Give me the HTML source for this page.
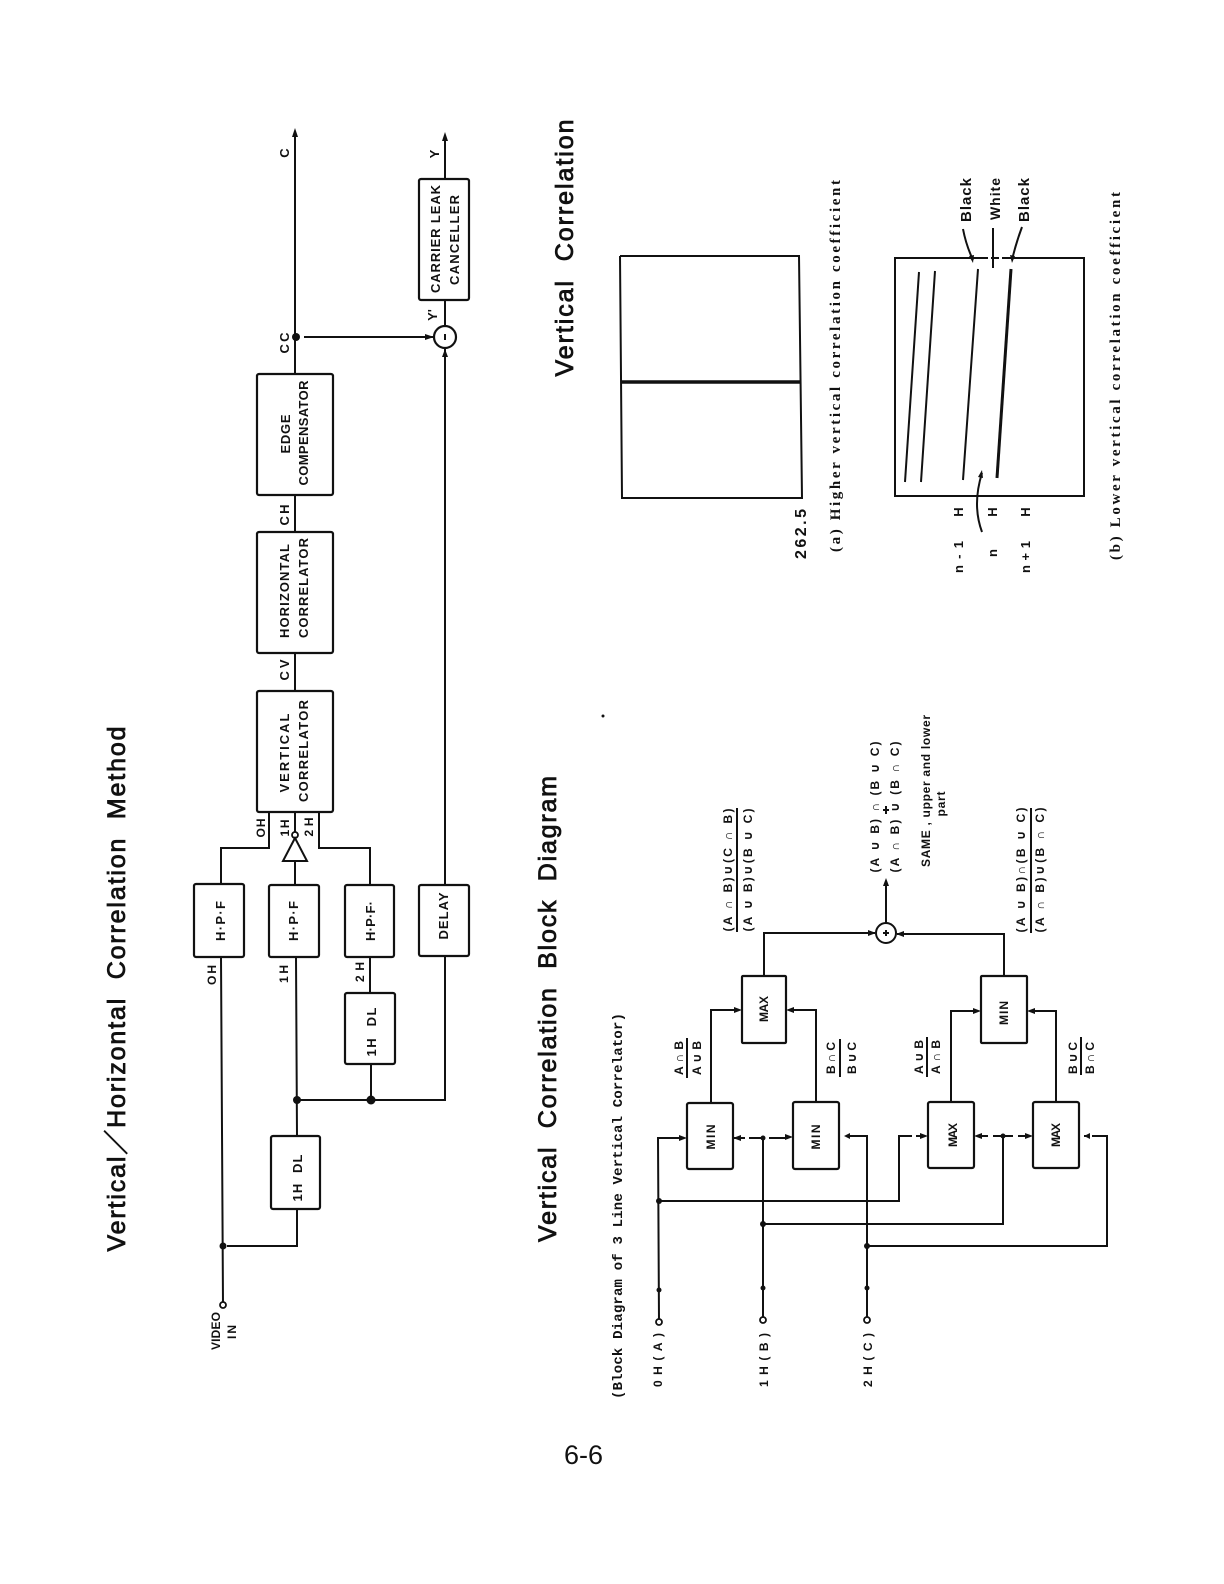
<!DOCTYPE html>
<html><head><meta charset="utf-8"><style>
html,body{margin:0;padding:0;background:#fff}
svg{display:block}
text{fill:#111;font-family:"Liberation Sans","DejaVu Sans",sans-serif;white-space:pre}
.b{font-weight:bold;font-size:13px;text-anchor:middle}
.s{font-weight:bold;font-size:12px;text-anchor:middle}
.t{font-size:25px;stroke:#111;stroke-width:.8;text-anchor:middle}
.c{font-family:"Liberation Mono","DejaVu Sans Mono",monospace;font-weight:bold;font-size:14px;text-anchor:middle}
.ln{fill:none;stroke:#111;stroke-width:2}
.box{fill:#fff;stroke:#111;stroke-width:2.2}
.f{fill:#111;stroke:none}
</style></head><body>
<svg width="1224" height="1584" viewBox="0 0 1224 1584" xmlns="http://www.w3.org/2000/svg">
<rect width="1224" height="1584" fill="#fff"/>

<!-- titles -->
<text class="t" transform="translate(125,989) rotate(-90)" textLength="525">Vertical／Horizontal  Correlation  Method</text>
<text class="t" transform="translate(556,1009) rotate(-90)" textLength="466">Vertical  Correlation  Block  Diagram</text>
<text class="t" transform="translate(573,248) rotate(-90)" textLength="257">Vertical  Correlation</text>
<text class="c" transform="translate(622,1206) rotate(-90)" textLength="386">(Block Diagram of 3 Line Vertical Correlator)</text>
<text transform="translate(564,1464)" font-size="27" textLength="39">6-6</text>

<!-- top diagram wires -->
<g class="ln">
<path d="M295 132V374M295 495V532M295 653V691"/>
<path d="M445 136V179M445 300V326M445 348V884"/>
<path d="M304 337H434"/>
<path d="M269 812V848H221V884M295 812V832M295 861V884M319 812V848H370V884"/>
<path d="M221 957L223 1305M296 957L297 1136M297 1209V1246H227M370 957V993M371 1064V1100M297 1100H445V957"/>
</g>
<path class="f" d="M295 128l-3 9h6zM445 132l-3 9h6zM434 337l-9-3v6z"/>
<path class="f" d="M445 349l-3 8h6z"/>
<circle cx="296" cy="337" r="4" class="f"/>
<circle cx="297" cy="1100" r="4" class="f"/>
<circle cx="371" cy="1100" r="4.5" class="f"/>
<circle cx="223" cy="1246" r="3.5" class="f"/>
<circle cx="223" cy="1305" r="3" fill="#fff" stroke="#111" stroke-width="1.8"/>
<circle cx="445" cy="337" r="11" fill="#fff" stroke="#111" stroke-width="2.2"/>
<rect x="444" y="334" width="2" height="6" class="f"/>
<circle cx="295" cy="835" r="3" fill="#fff" stroke="#111" stroke-width="1.8"/>
<path d="M295 838L283 861H307Z" fill="#fff" stroke="#111" stroke-width="2"/>

<!-- top diagram boxes -->
<g class="box">
<rect x="419" y="179" width="50" height="121" rx="2"/>
<rect x="257" y="374" width="76" height="121" rx="2"/>
<rect x="257" y="532" width="76" height="121" rx="2"/>
<rect x="257" y="691" width="76" height="121" rx="2"/>
<rect x="194" y="884" width="50" height="73" rx="2"/>
<rect x="269" y="885" width="50" height="72" rx="2"/>
<rect x="345" y="885" width="49" height="72" rx="2"/>
<rect x="419" y="885" width="50" height="71" rx="2"/>
<rect x="345" y="993" width="50" height="71" rx="2"/>
<rect x="271" y="1136" width="49" height="73" rx="2"/>
</g>

<!-- top diagram labels -->
<g>
<text class="b" transform="translate(440,239) rotate(-90)" textLength="108">CARRIER LEAK</text>
<text class="b" transform="translate(459,240) rotate(-90)" textLength="90">CANCELLER</text>
<text class="b" transform="translate(290,434) rotate(-90)" textLength="39">EDGE</text>
<text class="b" transform="translate(308,433) rotate(-90)" textLength="105">COMPENSATOR</text>
<text class="b" transform="translate(289,591) rotate(-90)" textLength="94">HORIZONTAL</text>
<text class="b" transform="translate(308,588) rotate(-90)" textLength="100">CORRELATOR</text>
<text class="b" transform="translate(289,753) rotate(-90)" textLength="79">VERTICAL</text>
<text class="b" transform="translate(308,751) rotate(-90)" textLength="102">CORRELATOR</text>
<text class="b" transform="translate(289,153) rotate(-90)">C</text>
<text class="b" transform="translate(289,343) rotate(-90)" textLength="21">CC</text>
<text class="b" transform="translate(439,154) rotate(-90)">Y</text>
<text class="b" transform="translate(437,315) rotate(-90)">Y'</text>
<text class="b" transform="translate(289,515) rotate(-90)" textLength="21">CH</text>
<text class="b" transform="translate(289,670) rotate(-90)" textLength="21">CV</text>
<text class="s" transform="translate(265,828) rotate(-90)" textLength="19">OH</text>
<text class="s" transform="translate(289,828) rotate(-90)" textLength="17">1H</text>
<text class="s" transform="translate(313,827) rotate(-90)" textLength="19">2H</text>
<text class="b" transform="translate(225,921) rotate(-90)" textLength="40">H·P·F</text>
<text class="b" transform="translate(298,921) rotate(-90)" textLength="40">H·P·F</text>
<text class="b" transform="translate(375,921) rotate(-90)" textLength="40">H·P·F·</text>
<text class="b" transform="translate(448,916) rotate(-90)" textLength="47">DELAY</text>
<text class="s" transform="translate(216,975) rotate(-90)" textLength="20">OH</text>
<text class="s" transform="translate(288,974) rotate(-90)" textLength="18">1H</text>
<text class="s" transform="translate(364,972) rotate(-90)" textLength="20">2H</text>
<text class="b" transform="translate(376,1032) rotate(-90)" textLength="49">1H  DL</text>
<text class="b" transform="translate(302,1178) rotate(-90)" textLength="47">1H  DL</text>
<text class="s" transform="translate(220,1331) rotate(-90)" textLength="38">VIDEO</text>
<text class="s" transform="translate(236,1332) rotate(-90)" textLength="14">IN</text>
</g>

<!-- lower diagram wires -->
<g class="ln" stroke-width="1.8">
<path d="M659 1322L658 1138H682"/>
<path d="M763 1320V1137"/>
<path d="M733 1138H745M749 1138H765M769 1138H788"/>
<path d="M867 1320V1136H848"/>
<path d="M659 1201H899V1136H912M916 1136H923"/>
<path d="M763 1224H1003V1136M978 1136H988M993 1136H1013M1018 1136H1028"/>
<path d="M867 1246H1107V1136H1092M1090 1136H1084"/>
<path d="M711 1103V1010H737M816 1102V1010H791"/>
<path d="M951 1102V1011H976M1056 1102V1011H1032"/>
<path d="M764 976V933H875M1004 976V934H897M886 923V882"/>
</g>
<path class="f" d="M687 1138l-8-3v6zM733 1138l8-3v6zM793 1137l-8-3v6zM844 1136l6-3v6zM928 1136l-8-3v6zM974 1136l8-3v6zM1033 1136l-8-3v6zM1084 1136l6-3v6z"/>
<path class="f" d="M742 1010l-8-3v6zM786 1010l8-3v6zM981 1011l-8-3v6zM1027 1011l8-3v6z"/>
<path class="f" d="M876 933l-8-3v6zM896 934l8-3v6zM886 878l-3 8h6z"/>
<g class="f">
<circle cx="763" cy="1138" r="2.5"/><circle cx="1003" cy="1136" r="2.5"/>
<circle cx="659" cy="1201" r="3"/><circle cx="763" cy="1224" r="3"/><circle cx="867" cy="1246" r="3"/>
<circle cx="659" cy="1290" r="2.5"/><circle cx="763" cy="1288" r="2.5"/><circle cx="867" cy="1288" r="2.5"/>
</g>
<g fill="#fff" stroke="#111" stroke-width="1.8">
<circle cx="659" cy="1322" r="3"/><circle cx="763" cy="1320" r="3"/><circle cx="867" cy="1320" r="3"/>
</g>
<circle cx="886" cy="933" r="10" fill="#fff" stroke="#111" stroke-width="2"/>
<path class="f" d="M885 930h2v2h2v2h-2v2h-2v-2h-2v-2h2z"/>

<g class="box">
<rect x="687" y="1103" width="46" height="66" rx="2"/>
<rect x="793" y="1102" width="46" height="67" rx="2"/>
<rect x="928" y="1102" width="46" height="66" rx="2"/>
<rect x="1033" y="1102" width="46" height="66" rx="2"/>
<rect x="742" y="976" width="44" height="67" rx="1"/>
<rect x="981" y="976" width="46" height="67" rx="1"/>
</g>

<g>
<text class="s" transform="translate(715,1137) rotate(-90)" textLength="25">MIN</text>
<text class="s" transform="translate(820,1137) rotate(-90)" textLength="25">MIN</text>
<text class="s" transform="translate(957,1135) rotate(-90)" textLength="24">MAX</text>
<text class="s" transform="translate(1060,1135) rotate(-90)" textLength="24">MAX</text>
<text class="s" transform="translate(768,1009) rotate(-90)" textLength="26">MAX</text>
<text class="s" transform="translate(1008,1013) rotate(-90)" textLength="24">MIN</text>

<text class="s" transform="translate(662,1360) rotate(-90)" textLength="54">0H(A)</text>
<text class="s" transform="translate(768,1360) rotate(-90)" textLength="54">1H(B)</text>
<text class="s" transform="translate(872,1360) rotate(-90)" textLength="54">2H(C)</text>

<text class="s" transform="translate(683,1058) rotate(-90)" textLength="34">A ∩ B</text>
<text class="s" transform="translate(701,1058) rotate(-90)" textLength="34">A ∪ B</text>
<text class="s" transform="translate(835,1058) rotate(-90)" textLength="32">B ∩ C</text>
<text class="s" transform="translate(856,1058) rotate(-90)" textLength="32">B ∪ C</text>
<text class="s" transform="translate(923,1057) rotate(-90)" textLength="34">A ∪ B</text>
<text class="s" transform="translate(940,1057) rotate(-90)" textLength="34">A ∩ B</text>
<text class="s" transform="translate(1077,1058) rotate(-90)" textLength="32">B ∪ C</text>
<text class="s" transform="translate(1094,1058) rotate(-90)" textLength="32">B ∩ C</text>

<text class="s" transform="translate(732,870) rotate(-90)" textLength="123">(A ∩ B)∪(C ∩ B)</text>
<text class="s" transform="translate(752,870) rotate(-90)" textLength="123">(A ∪ B)∪(B ∪ C)</text>
<text class="s" transform="translate(1025,870) rotate(-90)" textLength="125">(A ∪ B)∩(B ∪ C)</text>
<text class="s" transform="translate(1044,870) rotate(-90)" textLength="125">(A ∩ B)∪(B ∩ C)</text>
<text class="s" transform="translate(879,807) rotate(-90)" textLength="131">(A ∪ B) ∩ (B ∪ C)</text>
<text class="s" transform="translate(899,807) rotate(-90)" textLength="131">(A ∩ B) ∪ (B ∩ C)</text>
<text class="s" transform="translate(930,791) rotate(-90)" textLength="152">SAME , upper and lower</text>
<text class="s" transform="translate(945,804) rotate(-90)" textLength="25">part</text>
</g>
<g class="ln" stroke-width="1.8">
<path d="M687 1038V1078M840 1039V1077M927 1037V1077M1081 1037V1075"/>
<path d="M737 808V932M1031 808V933"/>
<path d="M886 806V814M883 810H889"/>
</g>

<!-- right diagrams -->
<g class="ln">
<path d="M620 256H799L802 498H622L620 256"/>
<path d="M621 382H801" stroke-width="3.5"/>
<path d="M895 258H1084V496H895Z"/>
<path d="M919 272L905 482M935 271L921 482M978 269L963 480"/>
<path d="M1011 269L997 478" stroke-width="3"/>
</g>
<g class="ln" stroke-width="1.5">
<path d="M963 229Q966 245 973 260M993 228V268M1022 227Q1016 243 1012 260"/>
<path d="M982 532Q972 505 982 473"/>
</g>
<path class="f" d="M973 263l-4-7 5-1zM1012 263l-2-8 5 1zM982 470l-4 7 5 1z"/>
<rect x="988" y="256" width="3" height="5" fill="#fff"/>
<rect x="999" y="256" width="3" height="5" fill="#fff"/>

<g>
<text class="b" style="font-size:16px" transform="translate(806,534) rotate(-90)" textLength="50">262.5</text>
<text class="c" style="font-size:15px;font-family:'Liberation Serif',serif" transform="translate(840,366) rotate(-90)" textLength="372">(a) Higher vertical correlation coefficient</text>
<text class="c" style="font-size:15px;font-family:'Liberation Serif',serif" transform="translate(1120,376) rotate(-90)" textLength="368">(b) Lower vertical correlation coefficient</text>
<text class="b" style="font-size:15px" transform="translate(971,200) rotate(-90)" textLength="44">Black</text>
<text class="b" style="font-size:14px" transform="translate(1000,199) rotate(-90)" textLength="42">White</text>
<text class="b" style="font-size:15px" transform="translate(1029,200) rotate(-90)" textLength="44">Black</text>
<text class="b" transform="translate(963,512) rotate(-90)">H</text>
<text class="b" transform="translate(997,512) rotate(-90)">H</text>
<text class="b" transform="translate(1030,512) rotate(-90)">H</text>
<text class="b" transform="translate(963,557) rotate(-90)" textLength="32">n-1</text>
<text class="b" transform="translate(997,553) rotate(-90)">n</text>
<text class="b" transform="translate(1030,557) rotate(-90)" textLength="32">n+1</text>
</g>
<circle cx="603" cy="716" r="1.5" class="f"/>
</svg>
</body></html>
